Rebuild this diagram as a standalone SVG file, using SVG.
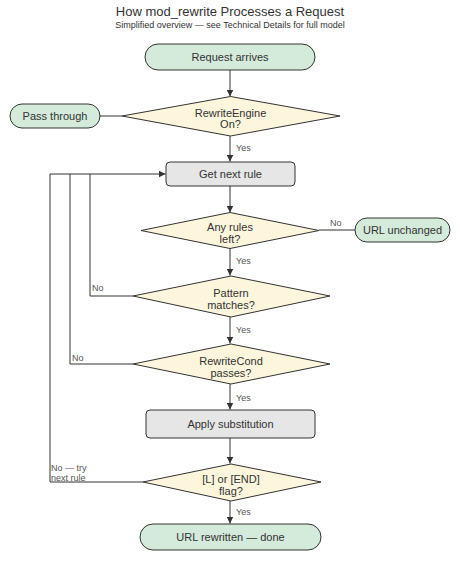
<svg xmlns="http://www.w3.org/2000/svg" width="460" height="570" viewBox="0 0 460 570">
<defs>
<marker id="arr" viewBox="0 0 8 8" refX="8" refY="4" markerWidth="7" markerHeight="7" markerUnits="userSpaceOnUse" orient="auto">
<path d="M0,0 L8,4 L0,8 Z" fill="#333"/>
</marker>
<style>
.t{font-family:"Liberation Sans",Arial,sans-serif;fill:#333;text-anchor:middle}
.n{font-size:11px}
.lbl{font-family:"Liberation Sans",Arial,sans-serif;font-size:9px;fill:#555}
.term{fill:#d4eadb;stroke:#333;stroke-width:1}
.proc{fill:#e6e6e6;stroke:#333;stroke-width:1}
.dec{fill:#fdf5dc;stroke:#333;stroke-width:1}
.c{fill:none;stroke:#333;stroke-width:1}
</style>
</defs>
<rect width="460" height="570" fill="#fff"/>
<text class="t" x="230" y="16" font-size="13">How mod_rewrite Processes a Request</text>
<text class="t" x="230" y="28" font-size="9">Simplified overview — see Technical Details for full model</text>

<g id="connectors">
<path class="c" d="M230,70 V96.5" marker-end="url(#arr)"/>
<path class="c" d="M100,116 H122"/>
<path class="c" d="M230,136 V161.5" marker-end="url(#arr)"/>
<path class="c" d="M230,186 V212.5" marker-end="url(#arr)"/>
<path class="c" d="M319,230 H355"/>
<path class="c" d="M230,248 V275.5" marker-end="url(#arr)"/>
<path class="c" d="M133,296 H90 V174"/>
<path class="c" d="M230,317 V343.5" marker-end="url(#arr)"/>
<path class="c" d="M133,364 H70 V174"/>
<path class="c" d="M230,384 V409.5" marker-end="url(#arr)"/>
<path class="c" d="M230,438 V463.5" marker-end="url(#arr)"/>
<path class="c" d="M143,482 H50 V174 H165.5" marker-end="url(#arr)"/>
<path class="c" d="M230,501 V523.5" marker-end="url(#arr)"/>
<text class="lbl" x="236" y="151">Yes</text>
<text class="lbl" x="330" y="226">No</text>
<text class="lbl" x="236" y="264">Yes</text>
<text class="lbl" x="92" y="291">No</text>
<text class="lbl" x="236" y="333">Yes</text>
<text class="lbl" x="72" y="361">No</text>
<text class="lbl" x="236" y="401">Yes</text>
<text class="lbl" x="51" y="471">No — try</text>
<text class="lbl" x="51" y="481">next rule</text>
<text class="lbl" x="236" y="515">Yes</text>
</g>

<g id="request-arrives">
<rect class="term" x="145" y="44" width="170" height="26" rx="13"/>
<text class="t n" x="230" y="61">Request arrives</text>
</g>
<g id="rewriteengine-on">
<polygon class="dec" points="230.5,96.5 340,116 230.5,136 122,116"/>
<text class="t n" x="230.5" y="116.5">RewriteEngine</text>
<text class="t n" x="230.5" y="128">On?</text>
</g>
<g id="pass-through">
<rect class="term" x="10" y="104" width="90" height="24" rx="12"/>
<text class="t n" x="55" y="120">Pass through</text>
</g>
<g id="get-next-rule">
<rect class="proc" x="166" y="162" width="129" height="24" rx="4"/>
<text class="t n" x="230.5" y="178">Get next rule</text>
</g>
<g id="any-rules-left">
<polygon class="dec" points="230,212.5 319,230.5 230,248.5 141,230.5"/>
<text class="t n" x="230" y="231">Any rules</text>
<text class="t n" x="230" y="243">left?</text>
</g>
<g id="url-unchanged">
<rect class="term" x="355" y="218" width="95" height="24" rx="12"/>
<text class="t n" x="402.5" y="234">URL unchanged</text>
</g>
<g id="pattern-matches">
<polygon class="dec" points="231,276 330,296 231,317 133,296"/>
<text class="t n" x="231" y="296.5">Pattern</text>
<text class="t n" x="231" y="308.5">matches?</text>
</g>
<g id="rewritecond-passes">
<polygon class="dec" points="231,344 330,364 231,384 133,364"/>
<text class="t n" x="231" y="364.5">RewriteCond</text>
<text class="t n" x="231" y="376.5">passes?</text>
</g>
<g id="apply-substitution">
<rect class="proc" x="146" y="410" width="169" height="28" rx="4"/>
<text class="t n" x="230.5" y="427.5">Apply substitution</text>
</g>
<g id="l-or-end-flag">
<polygon class="dec" points="231,464 321,482 231,501 143,482"/>
<text class="t n" x="231" y="482.5">[L] or [END]</text>
<text class="t n" x="231" y="494.5">flag?</text>
</g>
<g id="url-rewritten-done">
<rect class="term" x="140" y="524" width="181" height="26" rx="13"/>
<text class="t n" x="230.5" y="541">URL rewritten — done</text>
</g>
</svg>
